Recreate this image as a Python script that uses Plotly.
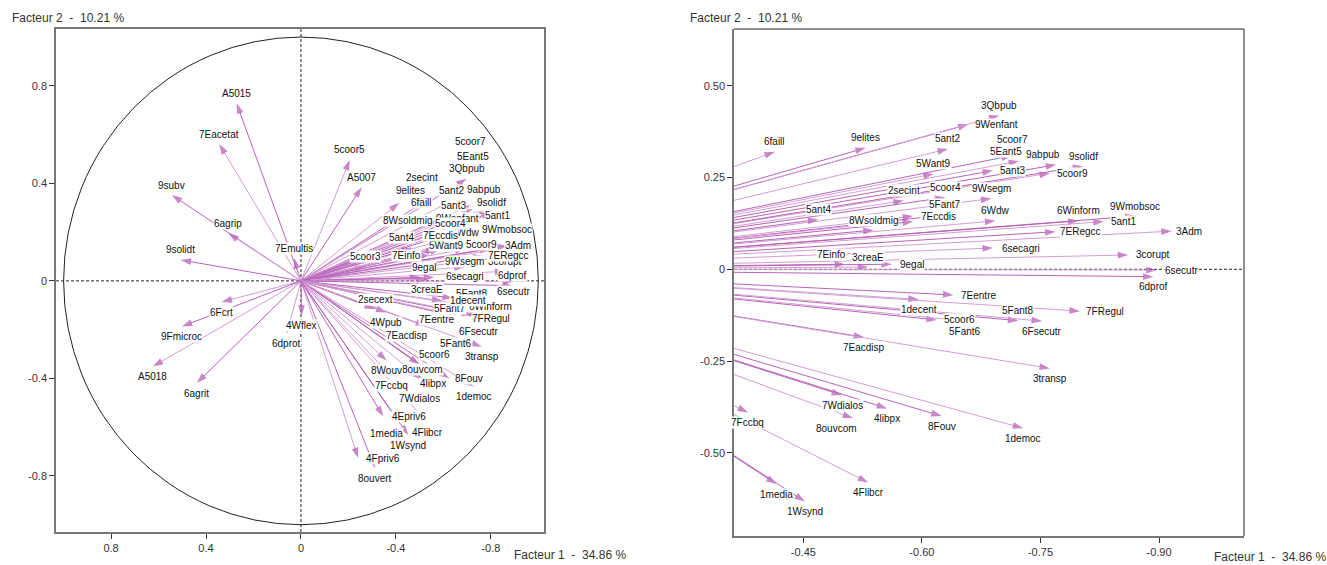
import plotly.graph_objects as go

# ---------------- data (factor coordinates of the variables) ----------------
names = ["A5015", "7Eacetat", "9subv", "6agrip", "9solidt", "6Fcrt", "9Fmicroc", "A5018", "6agrit", "6dprot",
         "4Wflex", "5coor5", "A5007", "7Emultis", "5coor3", "2secext", "4Wpub", "8Wouv", "4Epriv6", "4Fpriv6",
         "8ouvert",
         "6faill", "9elites", "5ant2", "9Wenfant", "3Qbpub", "5coor7", "5Eant5", "9abpub", "5coor9", "9solidf",
         "5Want9", "5ant3", "2secint", "5coor4", "9Wsegm", "5Fant7", "7Eccdis", "", "", "5ant4",
         "6Wdw", "6Winform", "5ant1", "9Wmobsoc", "3Adm", "7ERegcc", "6secagri", "8Wsoldmig", "3corupt", "7Einfo",
         "3creaE", "9egal", "6secutr", "6dprof", "1decent", "7Eentre", "7FRegul", "5coor6", "5Fant6", "5Fant8",
         "6Fsecutr", "7Eacdisp", "3transp", "7Wdialos", "7Fccbq", "4libpx", "8ouvcom", "8Fouv", "1democ", "1media",
         "4Flibcr", "1Wsynd"]

f1 = [0.271, 0.344, 0.544, 0.306, 0.507, 0.334, 0.502, 0.624, 0.439, 0.060,
      -0.003, -0.206, -0.256, 0.029, -0.270, -0.312, -0.360, -0.361, -0.347, -0.241,
      -0.312,
      -0.414, -0.529, -0.633, -0.659, -0.698, -0.714, -0.723, -0.770, -0.762, -0.804,
      -0.615, -0.690, -0.577, -0.630, -0.688, -0.629, -0.589, -0.589, -0.572, -0.469,
      -0.693, -0.798, -0.830, -0.870, -0.916, -0.769, -0.690, -0.539, -0.861, -0.503,
      -0.532, -0.562, -0.897, -0.893, -0.596, -0.640, -0.800, -0.619, -0.655, -0.722,
      -0.752, -0.527, -0.762, -0.499, -0.380, -0.556, -0.513, -0.625, -0.728, -0.416,
      -0.532, -0.452]

f2 = [0.728, 0.561, 0.352, 0.195, 0.086, -0.087, -0.187, -0.351, -0.419, -0.217,
      -0.143, 0.496, 0.384, 0.093, 0.060, -0.116, -0.130, -0.327, -0.556, -0.727,
      -0.768,
      0.320, 0.331, 0.328, 0.395, 0.419, 0.310, 0.295, 0.285, 0.262, 0.281,
      0.260, 0.269, 0.187, 0.196, 0.193, 0.148, 0.145, 0.130, 0.132, 0.136,
      0.132, 0.132, 0.130, 0.145, 0.104, 0.1025, 0.058, 0.107, 0.039, 0.014,
      0.006, 0.014, -0.002, -0.020, -0.082, -0.070, -0.114, -0.138, -0.141, -0.140,
      -0.141, -0.185, -0.270, -0.343, -0.390, -0.379, -0.406, -0.400, -0.433, -0.585,
      -0.581, -0.633]

axis_title_x = "Facteur 1\u00a0\u00a0-\u00a0\u00a034.86 %"
axis_title_y = "Facteur 2\u00a0\u00a0-\u00a0\u00a010.21 %"

left_ticks = [0.8, 0.4, 0, -0.4, -0.8]
left_ticktext = ["0.8", "0.4", "0", "-0.4", "-0.8"]
right_xticks = [-0.45, -0.60, -0.75, -0.90]
right_xticktext = ["-0.45", "-0.60", "-0.75", "-0.90"]
right_yticks = [0.50, 0.25, 0, -0.25, -0.50]
right_yticktext = ["0.50", "0.25", "0", "-0.25", "-0.50"]

assert len(names) == len(f1) == len(f2)

# ---------------- styling / layout ----------------
LINE_DARK = "#B864B8"
LINE_LIGHT = "#D49ED4"
HEAD = "#B254B2"
FONT = "Liberation Sans, Arial, sans-serif"
LABEL_SIZE = 10
W, H = 1327, 565

left_xrange = [1.032, -1.024]
left_yrange = [-1.03, 1.033]
right_xrange = [-0.3623, -1.0075]
right_yrange = [-0.7267, 0.6548]

# panel boxes in page pixels (left, right, top, bottom)
left_box = (56, 544, 29, 532)
right_box = (734, 1244, 29, 536)

fig = go.Figure()

panels = [("x", "y", left_xrange, left_yrange, left_box),
          ("x2", "y2", right_xrange, right_yrange, right_box)]

for xa, ya, xr, yr, box in panels:
    for i, (n, a, b) in enumerate(zip(names, f1, f2)):
        fig.add_trace(go.Scatter(
            x=[0, a], y=[0, b], xaxis=xa, yaxis=ya,
            mode="lines+markers",
            line=dict(color=LINE_DARK if i % 2 == 0 else LINE_LIGHT, width=1),
            marker=dict(symbol="arrow", size=[0, 11], color=HEAD, angleref="previous",
                        line=dict(width=0)),
            hoverinfo="skip", showlegend=False,
        ))


def in_range(v, r):
    return min(r) <= v <= max(r)


def to_px(a, b, xr, yr, box):
    l, r, t, bt = box
    px = l + (a - xr[0]) / (xr[1] - xr[0]) * (r - l)
    py = bt - (b - yr[0]) / (yr[1] - yr[0]) * (bt - t)
    return px, py


def overlaps(b1, b2):
    return not (b1[1] <= b2[0] + 1 or b2[1] <= b1[0] + 1 or b1[3] <= b2[2] + 1 or b2[3] <= b1[2] + 1)


annotations = []
for xa, ya, xr, yr, box in panels:
    items = []
    for n, a, b in zip(names, f1, f2):
        if n and in_range(a, xr) and in_range(b, yr):
            px, py = to_px(a, b, xr, yr, box)
            ox, oy = to_px(0, 0, xr, yr, box)
            items.append((n, a, b, px, py, (px - ox) ** 2 + (py - oy) ** 2))
    # outer labels first: they get their preferred place
    items.sort(key=lambda it: -it[5])
    placed = []
    for n, a, b, px, py, _ in items:
        w = 5.5 * len(n) + 2
        h = 12
        right = a < 0  # axes are reversed: negative F1 goes to the right
        up = b > 0
        sx = 1 if right else -1
        sy = -1 if up else 1
        slope = abs(b) / max(abs(a), 1e-6)
        cands = []
        for k in range(11):
            g = 5 + 6 * k
            side = (sx * (g + w / 2), 0)
            vert = (0, sy * (g - 1 + h / 2))
            diag = (sx * (w / 2 - 4), sy * (g - 1 + h / 2))
            diag2 = (-sx * (w / 2 - 4), sy * (g - 1 + h / 2))
            other_vert = (0, -sy * (g - 1 + h / 2))
            cands += [side, vert, diag] if slope < 0.15 else [vert, diag, side]
            cands += [diag2, other_vert]
        choice = cands[0]
        for cx, cy in cands:
            bx = (px + cx - w / 2, px + cx + w / 2, py + cy - h / 2, py + cy + h / 2)
            inside = box[0] - 25 <= bx[0] and bx[1] <= box[1] + 2 and box[2] <= bx[2] and bx[3] <= box[3]
            if inside and not any(overlaps(bx, p) for p in placed):
                choice = (cx, cy)
                break
        cx, cy = choice
        placed.append((px + cx - w / 2, px + cx + w / 2, py + cy - h / 2, py + cy + h / 2))
        annotations.append(dict(
            x=a, y=b, xref=xa, yref=ya, text=n, showarrow=False,
            xanchor="center", yanchor="middle", xshift=cx, yshift=-cy,
            font=dict(family=FONT, size=LABEL_SIZE, color="#111111"),
            bgcolor="white", borderpad=0,
        ))

# axis titles
for txt, x, y in [(axis_title_y, 10 / W, 1 - 18 / H),
                  (axis_title_x, 512 / W, 1 - 555 / H),
                  (axis_title_y, 688 / W, 1 - 18 / H),
                  (axis_title_x, 1212 / W, 1 - 557 / H)]:
    annotations.append(dict(x=x, y=y, xref="paper", yref="paper", text=txt, showarrow=False,
                            xanchor="left", yanchor="middle",
                            font=dict(family=FONT, size=12, color="#333333")))

shapes = [
    dict(type="circle", xref="x", yref="y", x0=-1, y0=-1, x1=1, y1=1,
         line=dict(color="#222222", width=1), layer="below"),
    dict(type="line", xref="x", yref="y domain", x0=0, x1=0, y0=0, y1=1,
         line=dict(color="#222222", width=1, dash="3px,2px"), layer="below"),
    dict(type="line", xref="x domain", yref="y", x0=0, x1=1, y0=0, y1=0,
         line=dict(color="#222222", width=1, dash="3px,2px"), layer="below"),
    dict(type="line", xref="x2 domain", yref="y2", x0=0, x1=1, y0=0, y1=0,
         line=dict(color="#222222", width=1, dash="3px,2px"), layer="below"),
    dict(type="line", xref="x2 domain", yref="y2 domain", x0=1, x1=1, y0=0, y1=1,
         line=dict(color="#222222", width=1)),
    dict(type="line", xref="x2 domain", yref="y2 domain", x0=0, x1=1, y0=1, y1=1,
         line=dict(color="#222222", width=1)),
]

axis_common = dict(showgrid=False, zeroline=False, showline=True,
                   linecolor="#777777", linewidth=1.5, ticks="outside", ticklen=5,
                   tickcolor="#333333", tickfont=dict(family=FONT, size=11, color="#333333"))

fig.update_layout(
    width=W, height=H,
    margin=dict(l=0, r=0, t=0, b=0),
    paper_bgcolor="white", plot_bgcolor="white",
    showlegend=False,
    xaxis=dict(domain=[left_box[0] / W, left_box[1] / W], range=left_xrange, tickvals=left_ticks,
               ticktext=left_ticktext, anchor="y", mirror=True, **axis_common),
    yaxis=dict(domain=[(H - left_box[3]) / H, (H - left_box[2]) / H], range=left_yrange,
               tickvals=left_ticks, ticktext=left_ticktext, anchor="x", mirror=True, **axis_common),
    xaxis2=dict(domain=[right_box[0] / W, right_box[1] / W], range=right_xrange, tickvals=right_xticks,
                ticktext=right_xticktext, anchor="y2", **axis_common),
    yaxis2=dict(domain=[(H - right_box[3]) / H, (H - right_box[2]) / H], range=right_yrange,
                tickvals=right_yticks, ticktext=right_yticktext, anchor="x2", **axis_common),
    annotations=annotations,
    shapes=shapes,
)

fig.write_html("out.html", config={"displayModeBar": False},
               post_script="document.body.style.margin='0px';")
